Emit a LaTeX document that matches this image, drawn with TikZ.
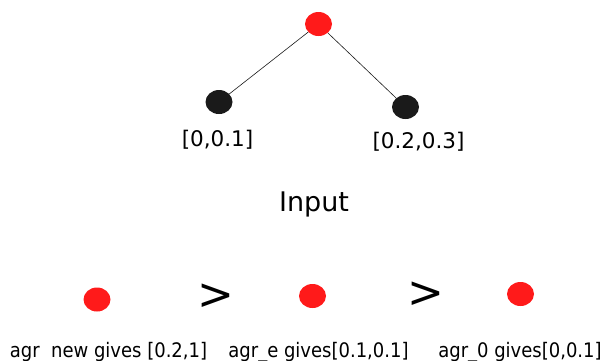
\documentclass[tikz,border=0pt]{standalone}
\usepackage{fontspec}
\usepackage{xcolor}
\usetikzlibrary{shapes.geometric}
\setmainfont{DejaVu Sans}
\newfontfamily\condfont{DejaVu Sans Condensed}
\definecolor{dotred}{HTML}{FF1A1A}
\definecolor{dotblack}{HTML}{1A1A1A}

\begin{document}
\begin{tikzpicture}[x=1pt, y=-1pt,
    dot/.style={ellipse, inner sep=0pt, minimum width=27pt, minimum height=24pt},
    reddot/.style={dot, fill=dotred},
    blackdot/.style={dot, fill=dotblack},
    interval/.style={font=\fontsize{21.5}{26}\selectfont, inner sep=0pt, anchor=base},
    gives/.style={font=\condfont\fontsize{20}{24}\selectfont, inner sep=0pt, anchor=base},
    order/.style={font=\fontsize{44}{50}\selectfont, inner sep=0pt}]
    \useasboundingbox (0,0) rectangle (603,360);

    % Tree
    \node[reddot] (root) at (318.5,24) {};
    \node[blackdot] (lchild) at (219,102) {};
    \node[blackdot] (rchild) at (405.5,107) {};
    \draw[line width=0.6pt, dotblack] (root) -- (lchild.center);
    \draw[line width=0.6pt, dotblack] (root) -- (rchild);
    \node[interval] (llabel) at (217.5,146) {[0,0.1]};
    \node[interval] (rlabel) at (418.5,148) {[0.2,0.3]};

    \node[font=\fontsize{27}{32}\selectfont, inner sep=0pt, anchor=base] (input) at (314,211) {Input};

    % Ordering of the aggregates
    \node[reddot] (agrnew) at (97,299.5) {};
    \node[order] (gtone) at (216,297) {>};
    \node[reddot] (agre) at (312.5,296) {};
    \node[order] (gttwo) at (425.5,294.5) {>};
    \node[reddot] (agrzero) at (520.5,294) {};

    \node[gives] (newtext) at (108.5,357) {agr\ \ new gives [0.2,1]};
    \node[gives] (etext) at (318.5,357) {agr\_e gives[0.1,0.1]};
    \node[gives] (zerotext) at (520,357) {agr\_0 gives[0,0.1]};
\end{tikzpicture}
\end{document}
